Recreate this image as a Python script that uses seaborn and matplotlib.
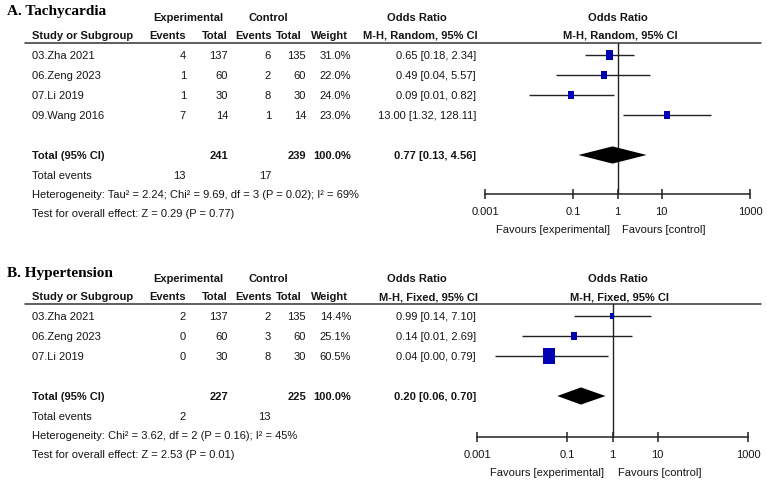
import matplotlib
matplotlib.use('Agg')
import matplotlib.pyplot as plt
import seaborn as sns
import numpy as np
import pandas as pd
from matplotlib import font_manager
from matplotlib.markers import MarkerStyle

# ---------------- data ----------------
a_studies = ['03.Zha 2021', '06.Zeng 2023', '07.Li 2019', '09.Wang 2016']
a_exp_events = [4, 1, 1, 7]
a_exp_total = [137, 60, 30, 14]
a_ctrl_events = [6, 2, 8, 1]
a_ctrl_total = [135, 60, 30, 14]
a_weight = [31.0, 22.0, 24.0, 23.0]
a_or = [0.65, 0.49, 0.09, 13.00]
a_lo = [0.18, 0.04, 0.01, 1.32]
a_hi = [2.34, 5.57, 0.82, 128.11]
a_total_or = [0.77, 0.13, 4.56]
a_totals = [241, 239]
a_total_events = [13, 17]
a_het = 'Heterogeneity: Tau² = 2.24; Chi² = 9.69, df = 3 (P = 0.02); I² = 69%'
a_test = 'Test for overall effect: Z = 0.29 (P = 0.77)'

b_studies = ['03.Zha 2021', '06.Zeng 2023', '07.Li 2019']
b_exp_events = [2, 0, 0]
b_exp_total = [137, 60, 30]
b_ctrl_events = [2, 3, 8]
b_ctrl_total = [135, 60, 30]
b_weight = [14.4, 25.1, 60.5]
b_or = [0.99, 0.14, 0.04]
b_lo = [0.14, 0.01, 0.0025]
b_hi = [7.10, 2.69, 0.79]
b_total_or = [0.20, 0.06, 0.70]
b_totals = [227, 225]
b_total_events = [2, 13]
b_het = 'Heterogeneity: Chi² = 3.62, df = 2 (P = 0.16); I² = 45%'
b_test = 'Test for overall effect: Z = 2.53 (P = 0.01)'

x_ticks = [0.001, 0.1, 1, 10, 1000]
x_tick_labels = ['0.001', '0.1', '1', '10', '1000']

# ---------------- style ----------------
sns.set_theme(style='white')
names = {f.name for f in font_manager.fontManager.ttflist}
sans = [f for f in ['Liberation Sans Narrow', 'Liberation Sans', 'DejaVu Sans'] if f in names]
plt.rcParams['font.family'] = sans
plt.rcParams['text.color'] = '#151515'
plt.rcParams['xtick.color'] = '#151515'
SERIF = [f for f in ['Liberation Serif', 'DejaVu Serif'] if f in names]

W, H = 767, 487
fig = plt.figure(figsize=(W / 100, H / 100), dpi=100)
fig.patch.set_facecolor('white')
bg = fig.add_axes([0, 0, 1, 1])
bg.set_xlim(0, W)
bg.set_ylim(H, 0)
bg.axis('off')

FS = 8.0
BLUE = '#0000b4'
LINE = '#222222'


def px_axes(x0, x1, y0, y1):
    return fig.add_axes([x0 / W, 1 - y1 / H, (x1 - x0) / W, (y1 - y0) / H])


def fmt_or(o, l, h):
    return f'{o:.2f} [{l:.2f}, {h:.2f}]'


def panel(dy, title, model, studies, ee, et, ce, ct, wt, ors, los, his,
          tot_or, totals, tot_ev, het, test, ax_x0, ax_x1, axis_y):
    t = dict(fontsize=FS, va='center')
    tb = dict(fontsize=FS, va='center', fontweight='bold')
    bg.text(7, 12 + dy, title, fontsize=11, fontweight='bold', family=SERIF, va='center',
            color='black')
    bg.text(188, 18 + dy, 'Experimental', ha='center', **tb)
    bg.text(268, 18 + dy, 'Control', ha='center', **tb)
    bg.text(417, 18 + dy, 'Odds Ratio', ha='center', **tb)
    bg.text(618, 18 + dy, 'Odds Ratio', ha='center', **tb)
    y2 = 36 + dy
    bg.text(32, y2, 'Study or Subgroup', ha='left', **tb)
    bg.text(186, y2, 'Events', ha='right', **tb)
    bg.text(228, y2, 'Total', ha='right', **tb)
    bg.text(272, y2, 'Events', ha='right', **tb)
    bg.text(302, y2, 'Total', ha='right', **tb)
    bg.text(348, y2, 'Weight', ha='right', **tb)
    bg.text(478, y2, f'M-H, {model}, 95% CI', ha='right', **tb)
    bg.text(620, y2, f'M-H, {model}, 95% CI', ha='center', **tb)
    line_y = 43 + dy
    bg.plot([25, 761], [line_y, line_y], color='#333333', lw=1.1)

    cols = [186, 228, 271, 306, 351, 476]
    for i, s in enumerate(studies):
        y = 56 + dy + 20 * i
        bg.text(32, y, s, ha='left', **t)
        vals = [ee[i], et[i], ce[i], ct[i], f'{wt[i]:.1f}%', fmt_or(ors[i], los[i], his[i])]
        for c, v in zip(cols, vals):
            bg.text(c, y, str(v), ha='right', **t)
    n = len(studies)
    ty = 56 + dy + 20 * (n + 1)
    bg.text(32, ty, 'Total (95% CI)', ha='left', **tb)
    bg.text(228, ty, str(totals[0]), ha='right', **tb)
    bg.text(306, ty, str(totals[1]), ha='right', **tb)
    bg.text(351, ty, '100.0%', ha='right', **tb)
    bg.text(476, ty, fmt_or(*tot_or), ha='right', **tb)
    bg.text(32, ty + 20, 'Total events', ha='left', **t)
    bg.text(186, ty + 20, str(tot_ev[0]), ha='right', **t)
    bg.text(271, ty + 20, str(tot_ev[1]), ha='right', **t)
    bg.text(32, ty + 39, het, ha='left', **t)
    bg.text(32, ty + 58, test, ha='left', **t)

    # forest axes
    row0 = 55 + dy
    ax = px_axes(ax_x0, ax_x1, line_y, axis_y)
    ax.set_facecolor('none')
    ax.set_xscale('log')
    for sp in ['top', 'left', 'right']:
        ax.spines[sp].set_visible(False)
    ax.spines['bottom'].set_color(LINE)
    ax.spines['bottom'].set_linewidth(1.1)
    ax.axvline(1, color=LINE, lw=1.0, zorder=1)

    df = pd.DataFrame({'or': ors, 'lo': los, 'hi': his, 'weight': wt,
                       'row': np.arange(n)})
    ax.hlines(df['row'], df['lo'], df['hi'], color=LINE, lw=1.0, zorder=2)
    side = {w: 0.553 * w ** 0.75 for w in wt}
    sizes = {w: (1.35 * side[w] * 0.72) ** 2 for w in wt}
    verts = [(-0.37, -0.5), (0.37, -0.5), (0.37, 0.5), (-0.37, 0.5), (-0.37, -0.5)]
    sns.scatterplot(data=df, x='or', y='row', size='weight', sizes=sizes,
                    marker=MarkerStyle(verts), color=BLUE, linewidth=0,
                    legend=False, ax=ax, zorder=3)
    tr = n + 1
    hh = 0.43
    ax.fill([tot_or[1], tot_or[0], tot_or[2], tot_or[0]],
            [tr, tr - hh, tr, tr + hh], color='black', lw=0, zorder=4)

    ax.set_xlabel('')
    ax.set_ylabel('')
    ax.set_xlim(0.001, 1000)
    ax.set_ylim((axis_y - row0) / 20, (line_y - row0) / 20)
    ax.set_yticks([])
    ax.set_xticks(x_ticks)
    ax.set_xticklabels(x_tick_labels)
    ax.minorticks_off()
    ax.tick_params(axis='x', direction='inout', length=7, width=1.1, color=LINE,
                   pad=6, labelsize=FS, bottom=True)

    # favours labels
    x1 = ax_x0 + (ax_x1 - ax_x0) * 0.5
    fy = axis_y + 36
    bg.text(x1 - 8, fy, 'Favours [experimental]', ha='right', **t)
    bg.text(x1 + 5, fy, 'Favours [control]', ha='left', **t)


panel(0, 'A. Tachycardia', 'Random', a_studies, a_exp_events, a_exp_total,
      a_ctrl_events, a_ctrl_total, a_weight, a_or, a_lo, a_hi, a_total_or,
      a_totals, a_total_events, a_het, a_test, 485, 750, 194)
panel(261, 'B. Hypertension', 'Fixed', b_studies, b_exp_events, b_exp_total,
      b_ctrl_events, b_ctrl_total, b_weight, b_or, b_lo, b_hi, b_total_or,
      b_totals, b_total_events, b_het, b_test, 477, 748, 437)

fig.savefig('out.png', dpi=100, facecolor='white')
